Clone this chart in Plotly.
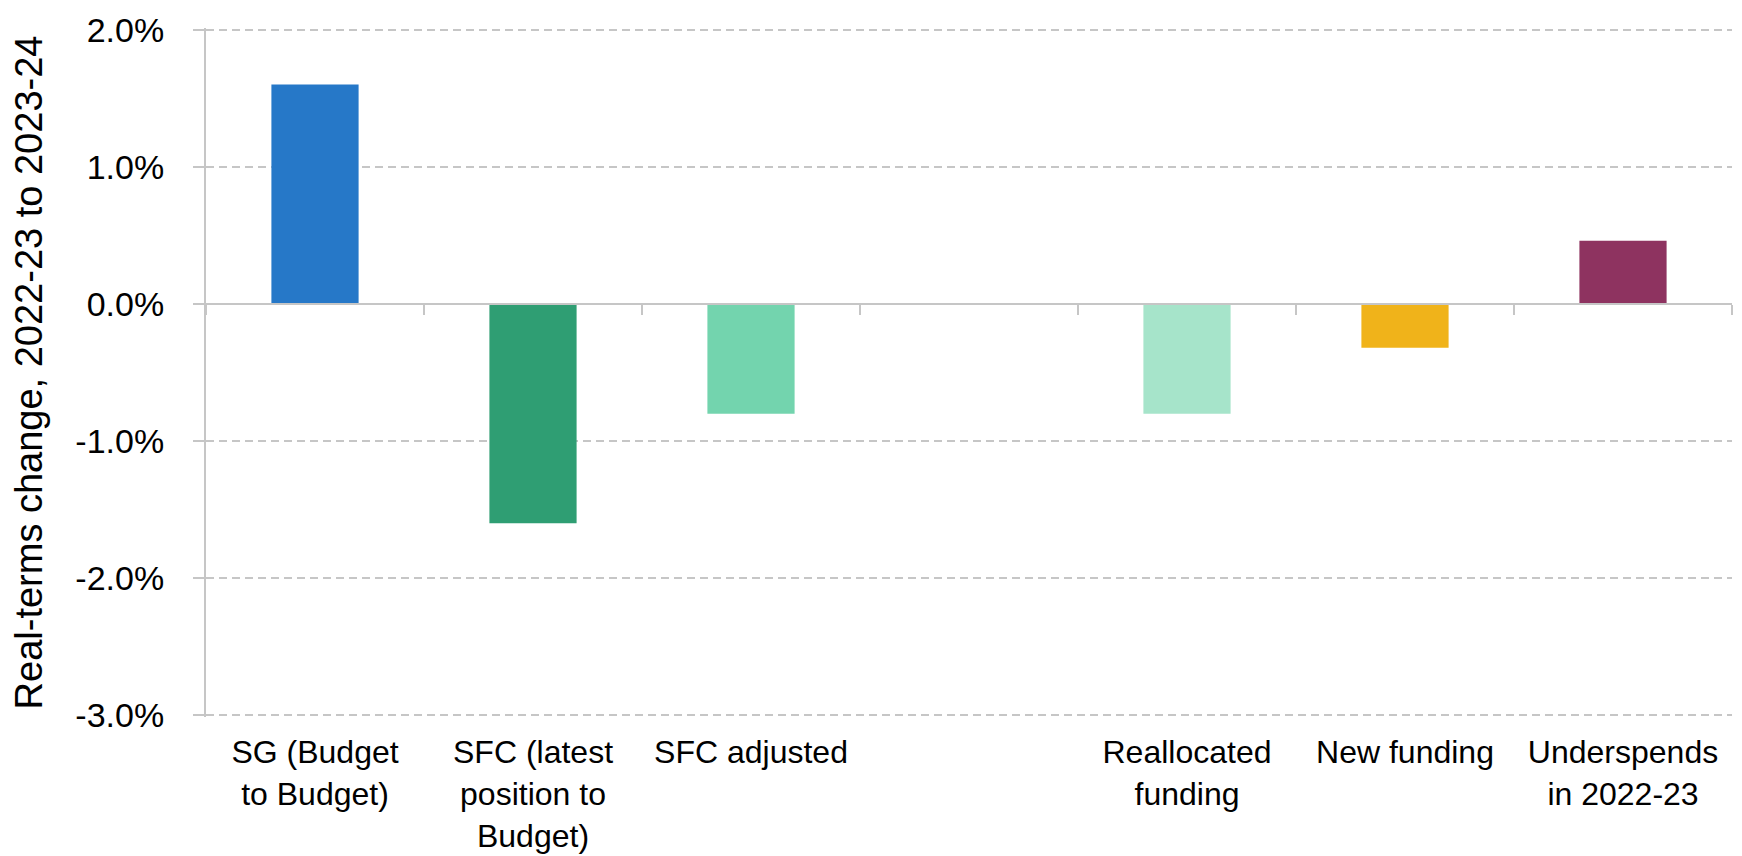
import plotly.graph_objects as go

categories = [
    "SG (Budget<br>to Budget)",
    "SFC (latest<br>position to<br>Budget)",
    "SFC adjusted",
    " ",
    "Reallocated<br>funding",
    "New funding",
    "Underspends<br>in 2022-23",
]
values = [1.6, -1.6, -0.8, None, -0.8, -0.32, 0.46]
bar_colors = ["#2678c8", "#2f9e73", "#73d4ae", "#ffffff", "#a6e4ca", "#f0b31a", "#8e3360"]
y_tickvals = [2, 1, 0, -1, -2, -3]
y_ticktext = ["2.0%", "1.0%", "0.0%", "-1.0%", "-2.0%", "-3.0%"]
y_title = "Real-terms change, 2022-23 to 2023-24"

FONT = "Liberation Sans, Arial, sans-serif"
GREY = "#c6c6c6"
y_min, y_max = -3, 2
pad = 0.012  # keep the edge gridlines drawn

fig = go.Figure()
fig.add_trace(go.Bar(
    x=categories, y=values, marker=dict(color=bar_colors, line=dict(width=0)),
    showlegend=False, hoverinfo="x+y",
))
# helper trace for the bottom label axis
fig.add_trace(go.Scatter(
    x=categories, y=[0] * len(categories), xaxis="x2", mode="markers",
    marker=dict(opacity=0), showlegend=False, hoverinfo="skip",
))

zero_pos = (0 - (y_min - pad)) / ((y_max + pad) - (y_min - pad))

# the page body has an 8px default margin, so the figure is sized to fit the window
fig.update_layout(
    width=1734, height=848,
    paper_bgcolor="white", plot_bgcolor="white",
    margin=dict(l=198, r=10, t=20, b=139, autoexpand=False),
    bargap=0.6,
    font=dict(family=FONT, size=34, color="#000000"),
    xaxis=dict(
        type="category", categoryorder="array", categoryarray=categories,
        range=[-0.5, len(categories) - 0.5],
        anchor="free", position=zero_pos,
        showline=True, linecolor=GREY, linewidth=2,
        ticks="outside", tickson="boundaries", ticklen=10, tickwidth=2, tickcolor=GREY,
        showticklabels=False, showgrid=False, zeroline=False, automargin=False,
    ),
    xaxis2=dict(
        type="category", categoryorder="array", categoryarray=categories,
        overlaying="x", matches="x", anchor="y", side="bottom",
        showline=False, showgrid=False, zeroline=False, automargin=False,
        ticks="outside", ticklen=7, tickcolor="rgba(0,0,0,0)",
        showticklabels=True, tickfont=dict(family=FONT, size=32, color="#000000"),
    ),
    yaxis=dict(
        range=[y_min - pad, y_max + pad], tickvals=y_tickvals, ticktext=y_ticktext,
        showline=True, linecolor=GREY, linewidth=2,
        ticks="outside", ticklen=11, tickwidth=2, tickcolor=GREY,
        ticklabelstandoff=22, ticklabeloverflow="allow", automargin=False,
        showgrid=True, gridcolor=GREY, gridwidth=1.5, griddash="8px,5px",
        zeroline=False,
        tickfont=dict(family=FONT, size=34, color="#000000"),
        title=dict(text=y_title, font=dict(family=FONT, size=38, color="#000000"), standoff=28),
    ),
)

fig.write_html("out.html")
